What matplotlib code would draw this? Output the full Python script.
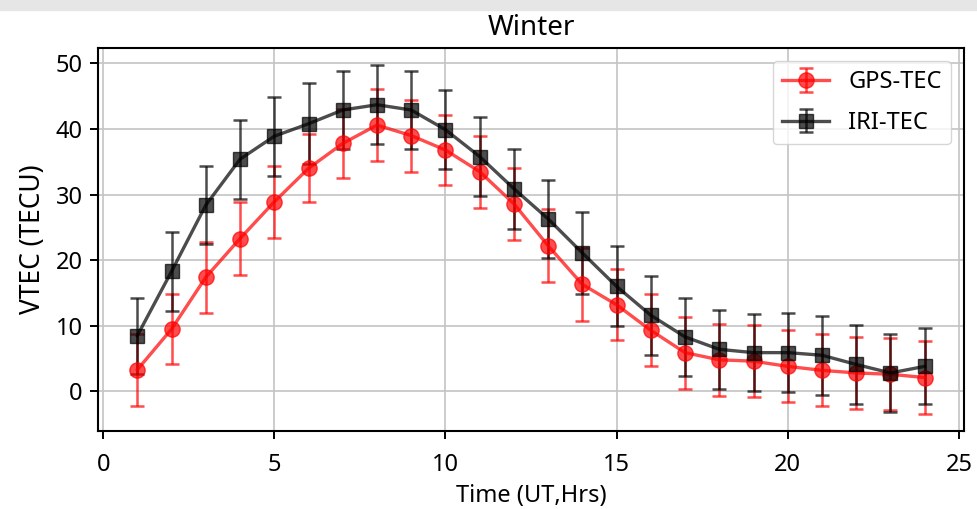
import matplotlib.pyplot as plt
from matplotlib.patches import Rectangle

plt.rcParams['font.family'] = ['Noto Sans', 'DejaVu Sans']

hours = list(range(1, 25))

gps_tec = [3.3, 9.5, 17.4, 23.3, 28.9, 34.0, 37.8, 40.6, 39.0, 36.8, 33.5, 28.6,
           22.2, 16.3, 13.2, 9.3, 5.9, 4.8, 4.6, 3.8, 3.2, 2.8, 2.6, 2.1]
gps_err = [5.5, 5.4, 5.4, 5.5, 5.5, 5.2, 5.2, 5.5, 5.5, 5.4, 5.5, 5.5,
           5.6, 5.6, 5.4, 5.5, 5.5, 5.5, 5.5, 5.5, 5.5, 5.5, 5.5, 5.5]

iri_tec = [8.5, 18.3, 28.4, 35.4, 38.9, 40.8, 42.9, 43.7, 42.9, 39.9, 35.8, 30.9,
           26.3, 21.1, 16.0, 11.6, 8.3, 6.4, 5.9, 5.9, 5.5, 4.1, 2.8, 3.8]
iri_err = [5.8, 6.0, 6.0, 6.0, 6.0, 6.2, 6.0, 6.0, 6.0, 6.0, 6.0, 6.1,
           6.0, 6.2, 6.1, 6.0, 6.0, 6.0, 5.9, 6.0, 6.0, 6.0, 6.0, 5.8]

fig = plt.figure(figsize=(9.78, 5.09), dpi=100)
fig.patches.append(Rectangle((0, 1 - 10 / 509), 1, 10 / 509, transform=fig.transFigure,
                             color='#e6e6e6', zorder=0))
ax = fig.add_axes([0.1002, 0.1532, 0.8855, 0.7525])

ax.errorbar(hours, gps_tec, yerr=gps_err, fmt='o-', color='red', alpha=0.7,
            markersize=11, linewidth=2.4, capsize=5, elinewidth=1.8, capthick=1.8,
            label='GPS-TEC')
ax.errorbar(hours, iri_tec, yerr=iri_err, fmt='s-', color='black', alpha=0.7,
            markersize=10, linewidth=2.4, capsize=5, elinewidth=1.8, capthick=1.8,
            label='IRI-TEC')

ax.grid(True, linewidth=1.2, color='#c4c4c4')
for s in ax.spines.values():
    s.set_linewidth(1.5)
ax.set_title('Winter', fontsize=20, pad=9)
ax.set_xlabel('Time (UT,Hrs)', fontsize=17, labelpad=5)
ax.set_ylabel('VTEC (TECU)', fontsize=19, labelpad=6)
ax.tick_params(labelsize=17, length=6, width=1.4, pad=5)
ax.tick_params(axis='x', pad=10)
ax.legend(loc='upper right', fontsize=17, borderaxespad=0.55, labelspacing=0.7)

fig.savefig('out.png', dpi=100)
